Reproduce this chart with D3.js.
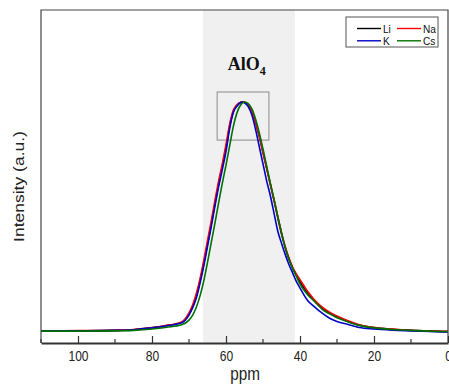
<!DOCTYPE html>
<html>
<head>
<meta charset="utf-8">
<script src="https://cdn.jsdelivr.net/npm/d3@7"></script>
<style>
	body { margin: 0; background: #fff; }
	svg { display: block; }
	text { font-family: Arial, "Liberation Sans", sans-serif; }
</style>
</head>
<body>
<div id="svg-container"></div>
<script>

// DATA
const ppm = [110, 100, 90, 85, 80, 76, 72, 70, 69, 68, 67, 66, 65, 64, 63, 62, 61, 60, 59, 58, 57, 56, 55.5, 55, 54, 53, 52, 51, 50, 49, 48, 47, 46, 45, 44, 43, 42, 41, 40, 38, 36, 34, 32, 30, 27, 24, 20, 15, 10, 5, 0];

const liValues = [0, 0.1, 0.3, 0.6, 1.4, 2.4, 3.8, 7.5, 10.8, 15.5, 22, 29.5, 38, 46.5, 55.5, 64, 72, 80, 89.5, 96, 98.6, 99.9, 100, 99.9, 98.8, 95.8, 91, 85, 78, 71, 64, 57, 49.5, 42.5, 36.5, 31.5, 27.5, 24.3, 21.5, 16.8, 13, 10, 7.9, 6.2, 4.2, 2.6, 1.5, 0.8, 0.3, 0, -0.2];
const naValues = [0.1, 0.2, 0.4, 0.7, 1.5, 2.5, 4, 8, 11.5, 16.5, 23, 31, 39.5, 48, 57, 65.5, 73, 81.5, 90.5, 96.5, 98.9, 99.9, 100, 99.9, 99, 96, 91, 85, 78, 71, 64, 57, 50, 43, 37, 32, 28, 25, 22.5, 17.5, 13.5, 10.5, 8.3, 6.6, 4.5, 2.8, 1.6, 0.9, 0.4, 0.1, -0.1];
const kValues = [0, 0.1, 0.3, 0.6, 1.4, 2.3, 3.6, 7, 10.2, 14.5, 21, 28.5, 37, 45.5, 54.5, 63, 70.5, 78.5, 88.5, 95.5, 98.3, 99.8, 100, 99.7, 98, 94.3, 88, 80.5, 73, 65.5, 59, 51.3, 43.6, 38.4, 33.5, 29.1, 25.4, 21.7, 18.8, 13.5, 10.5, 7.8, 5.6, 4.2, 2.9, 1.6, 0.9, 0.4, 0.1, -0.2, -0.4];
const csValues = [0, 0, 0.1, 0.3, 0.9, 1.7, 2.8, 4.8, 7, 10.5, 15.5, 22, 30, 38.5, 47, 56, 64.5, 72.5, 81, 89.5, 95.5, 98.8, 99.6, 100, 99.3, 97, 92.5, 86.5, 79.5, 72, 64.5, 57.5, 50, 43, 36.5, 31.5, 27.5, 24, 20.5, 16, 12.8, 9.5, 7.5, 5.8, 4, 2.5, 1.4, 0.7, 0.3, 0, -0.2];

const seriesNames = ["Li", "Na", "K", "Cs"];
const seriesColors = ["#000000", "#ff0000", "#0000c8", "#007000"];

const majorTicks = [100, 80, 60, 40, 20, 0];
const minorTicks = [110, 90, 70, 50, 30, 10];

// shaded AlO4 region and zoom box (data units)
const bandRange = [66.2, 41.4];
const boxPpm = [62.4, 48.4];
const boxInt = [104.4, 83.4];




// SPECTRUM PLOT
function graphData() {
	// graph dimension
	const w = 449;
	const h = 387;
	const padTop = 10;
	const padBottom = 44;
	const padLeft = 41;
	const padRight = 1;

	// x-scale (ppm runs right to left)
	const xScale = d3.scaleLinear()
		.domain([110, 0])
		.range([padLeft, w - padRight]);
	// y-scale
	const yScale = d3.scaleLinear()
		.domain([-5.2, 140.2])
		.range([h - padBottom, padTop]);

	// svg
	const svg = d3.select("#svg-container")
		.append("svg")
		.attr("width", w)
		.attr("height", h);

	svg.append("clipPath")
		.attr("id", "clip")
		.append("rect")
		.attr("x", padLeft)
		.attr("y", padTop)
		.attr("width", w - padLeft - padRight)
		.attr("height", h - padTop - padBottom);

	// grey band
	svg.append("rect")
		.attr("x", xScale(bandRange[0]))
		.attr("y", padTop)
		.attr("width", xScale(bandRange[1]) - xScale(bandRange[0]))
		.attr("height", h - padTop - padBottom)
		.attr("fill", "#f0f0f0");

	// AlO4 label
	const lab = svg.append("text")
		.attr("x", xScale(54.4))
		.attr("y", yScale(114))
		.attr("text-anchor", "middle")
		.style("font-family", "'Liberation Serif', 'Times New Roman', serif")
		.style("font-weight", "bold")
		.style("font-size", "18px")
		.attr("fill", "#111");
	lab.append("tspan").text("AlO");
	lab.append("tspan")
		.attr("dy", 5)
		.style("font-size", "12px")
		.text("4");

	// zoom box
	svg.append("rect")
		.attr("x", xScale(boxPpm[0]))
		.attr("y", yScale(boxInt[0]))
		.attr("width", xScale(boxPpm[1]) - xScale(boxPpm[0]))
		.attr("height", yScale(boxInt[1]) - yScale(boxInt[0]))
		.attr("fill", "none")
		.attr("stroke", "#8a8a8a")
		.attr("stroke-width", 1);

	// lines
	const allValues = [liValues, naValues, kValues, csValues];
	const line = d3.line()
		.x((d, i) => xScale(ppm[i]))
		.y(d => yScale(d))
		.curve(d3.curveMonotoneX);

	svg.append("g")
		.attr("clip-path", "url(#clip)")
		.selectAll("path")
		.data(allValues)
		.enter()
		.append("path")
		.attr("d", d => line(d))
		.attr("fill", "none")
		.attr("stroke", (d, i) => seriesColors[i])
		.attr("stroke-width", 1.6);

	// frame
	svg.append("path")
		.attr("d", `M${padLeft},${h - padBottom}V${padTop}H${w - padRight}V${h - padBottom}`)
		.attr("fill", "none")
		.attr("stroke", "#444")
		.attr("stroke-width", 1.2);

	// x-axis, ticks pointing inward
	const xAxis = d3.axisBottom(xScale)
		.tickValues(majorTicks)
		.tickSizeInner(-7)
		.tickSizeOuter(0)
		.tickPadding(8)
		.tickFormat(d3.format("d"));
	const gx = svg.append("g")
		.attr("transform", `translate(0, ${h - padBottom})`)
		.call(xAxis);
	gx.select(".domain").attr("stroke", "#333").attr("stroke-width", 1.8);
	gx.selectAll(".tick line").attr("stroke", "#333").attr("stroke-width", 1.2);
	gx.selectAll(".tick text")
		.style("font-size", "14px")
		.attr("fill", "#222")
		.attr("transform", "scale(0.86,1)");

	svg.append("g")
		.attr("transform", `translate(0, ${h - padBottom})`)
		.selectAll("line")
		.data(minorTicks)
		.enter()
		.append("line")
		.attr("x1", d => xScale(d))
		.attr("x2", d => xScale(d))
		.attr("y1", 0)
		.attr("y2", -4)
		.attr("stroke", "#333")
		.attr("stroke-width", 1.2);

	// axis titles
	svg.append("text")
		.attr("transform", `translate(245, 379.5) scale(0.85,1)`)
		.attr("text-anchor", "middle")
		.style("font-size", "18px")
		.attr("fill", "#222")
		.text("ppm");

	svg.append("text")
		.attr("transform", `translate(24, 186.5) rotate(-90) scale(1,0.82)`)
		.attr("text-anchor", "middle")
		.style("font-size", "17.5px")
		.attr("fill", "#222")
		.text("Intensity (a.u.)");

	// legend
	const legend = svg.append("g");
	legend.append("rect")
		.attr("x", 346)
		.attr("y", 17)
		.attr("width", 92)
		.attr("height", 30)
		.attr("fill", "#fff")
		.attr("stroke", "#555")
		.attr("stroke-width", 1);

	const items = legend.selectAll("g.item")
		.data(seriesNames)
		.enter()
		.append("g")
		.attr("class", "item")
		.attr("transform", (d, i) => `translate(${357 + (i % 2) * 40}, ${28.5 + Math.floor(i / 2) * 12.3})`);
	items.append("line")
		.attr("x1", 0)
		.attr("x2", 24)
		.attr("stroke", (d, i) => seriesColors[i])
		.attr("stroke-width", 1.4);
	items.append("text")
		.attr("transform", "translate(26, 4) scale(0.92,1)")
		.style("font-size", "11px")
		.attr("fill", "#111")
		.text(d => d);
}




document.addEventListener('DOMContentLoaded', () => {
	graphData();
});
</script>
</body>
</html>
